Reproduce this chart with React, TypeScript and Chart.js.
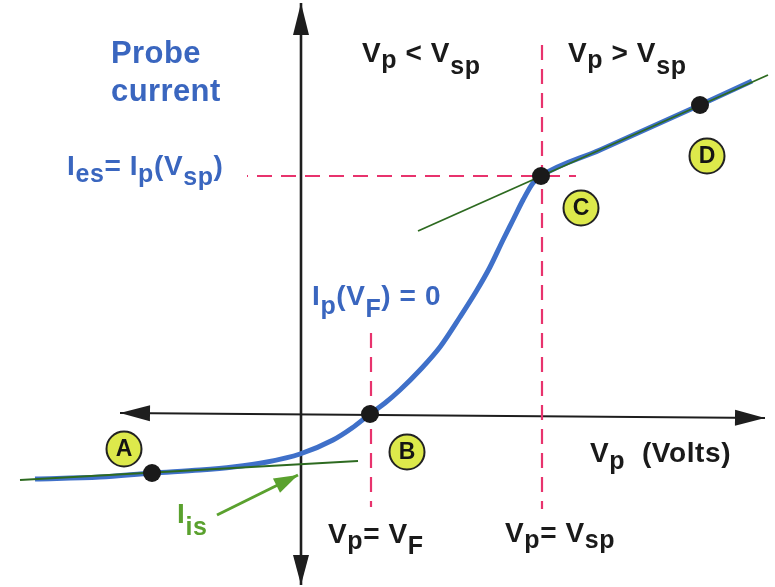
import React, { useEffect, useRef } from "react";
import { Chart, registerables } from "chart.js";

Chart.register(...registerables);

// ---- scale ranges (probe voltage, probe current; arbitrary units) ----
const X_MIN = -6.02;
const X_MAX = 9.48;
const Y_MIN = -3.44;
const Y_MAX = 8.3;

// ---- probe I-V characteristic ----
const curveV = [-5.32, -4.02, -2.98, -2.02, -1.36, -0.68, -0.02, 0.64, 1.02, 1.38, 1.68, 1.98, 2.38, 2.78, 3.18, 3.52, 3.78, 4.04, 4.24, 4.44, 4.64, 4.8, 5.98, 7.98, 9.02];
const curveI = [-1.28, -1.24, -1.16, -1.1, -1.04, -0.94, -0.78, -0.5, -0.26, 0.02, 0.24, 0.5, 0.9, 1.36, 1.96, 2.5, 2.96, 3.5, 3.9, 4.3, 4.64, 4.78, 5.3, 6.2, 6.68];

// ---- tangent (fit) lines ----
const ionFitV = [-5.62, 1.14];
const ionFitI = [-1.3, -0.92];
const elecFitV = [2.34, 9.34];
const elecFitI = [3.68, 6.8];

// ---- axes ----
const vAxisV = [0, 0];
const vAxisI = [-3.4, 8.24];
const hAxisV = [-3.62, 9.28];
const hAxisI = [0.04, -0.06];

// ---- dashed guide lines ----
const floatLineV = [1.4, 1.4];
const floatLineI = [1.64, -1.84];
const plasmaLineV = [4.82, 4.82];
const plasmaLineI = [7.4, -1.88];
const iesLineV = [5.5, -1.08];
const iesLineI = [4.78, 4.78];

// ---- marked points A-D ----
const markV = [-2.98, 1.38, 4.8, 7.98];
const markI = [-1.16, 0.02, 4.78, 6.2];
const badgeLabels = ["A", "B", "C", "D"];
const badgeV = [-3.54, 2.12, 5.6, 8.12];
const badgeI = [-0.68, -0.74, 4.14, 5.18];

// ---- I_is pointer arrow ----
const isArrowV = [-1.68, -0.06];
const isArrowI = [-2.0, -1.2];

// ---- text annotations: [text, subscriptShift] segments, anchored at (V, I) ----
type Seg = [string, number];
const labelTexts: Seg[][] = [
  [["V", 0], ["p", 6], [" < V", 0], ["sp", 12]],
  [["V", 0], ["p", 6], [" > V", 0], ["sp", 12]],
  [["I", 0], ["es", 7], ["= I", 0], ["p", 7], ["(V", 0], ["sp", 10], [")", 0]],
  [["I", 0], ["p", 9], ["(V", 0], ["F", 12], [") = 0", 0]],
  [["V", 0], ["p", 7], ["  (Volts)", 0]],
  [["V", 0], ["p", 6], ["= V", 0], ["F", 11]],
  [["V", 0], ["p", 6], ["= V", 0], ["sp", 6]],
  [["I", 0], ["is", 12]],
];
const labelV = [1.22, 5.34, -4.68, 0.22, 5.78, 0.54, 4.08, -2.48];
const labelI = [7.06, 7.06, 4.8, 2.2, -0.94, -2.56, -2.54, -2.16];
const labelKind = ["black", "black", "blue", "blue", "black", "black", "black", "green"];
const titleLines = ["Probe", "current"];
const titleV = [-3.8, -3.8];
const titleI = [7.04, 6.28];

const COLORS: Record<string, string> = {
  black: "#1a1a1a",
  blue: "#3a66bf",
  green: "#5aa12e",
};
const FONT = '"Liberation Sans", Arial, Helvetica, sans-serif';

const pts = (xs: number[], ys: number[]) => xs.map((x, i) => ({ x, y: ys[i] }));

function arrowHead(ctx: CanvasRenderingContext2D, tx: number, ty: number, fx: number, fy: number, len: number, hw: number, color: string) {
  const a = Math.atan2(ty - fy, tx - fx);
  const bx = tx - len * Math.cos(a);
  const by = ty - len * Math.sin(a);
  const nx = -Math.sin(a);
  const ny = Math.cos(a);
  ctx.beginPath();
  ctx.moveTo(tx, ty);
  ctx.lineTo(bx + nx * hw, by + ny * hw);
  ctx.lineTo(bx - nx * hw, by - ny * hw);
  ctx.closePath();
  ctx.fillStyle = color;
  ctx.fill();
}

const diagramPlugin = {
  id: "diagram",
  afterDatasetsDraw(chart: any) {
    const ctx: any = chart.ctx;
    const sx = chart.scales.x;
    const sy = chart.scales.y;
    const px = (v: number) => sx.getPixelForValue(v);
    const py = (v: number) => sy.getPixelForValue(v);
    ctx.save();

    // axis arrowheads
    const ax = "#1e1e1e";
    arrowHead(ctx, px(vAxisV[1]), py(vAxisI[1]), px(vAxisV[0]), py(vAxisI[0]), 32, 8, ax);
    arrowHead(ctx, px(vAxisV[0]), py(vAxisI[0]), px(vAxisV[1]), py(vAxisI[1]), 30, 8, ax);
    arrowHead(ctx, px(hAxisV[0]), py(hAxisI[0]), px(hAxisV[1]), py(hAxisI[1]), 30, 8, ax);
    arrowHead(ctx, px(hAxisV[1]), py(hAxisI[1]), px(hAxisV[0]), py(hAxisI[0]), 30, 8, ax);

    // I_is arrow head
    arrowHead(ctx, px(isArrowV[1]), py(isArrowI[1]), px(isArrowV[0]), py(isArrowI[0]), 24, 8, COLORS.green);

    // badge letters
    ctx.textAlign = "center";
    ctx.textBaseline = "middle";
    ctx.fillStyle = "#141414";
    ctx.font = `bold 23px ${FONT}`;
    badgeLabels.forEach((t, i) => {
      ctx.fillText(t, px(badgeV[i]), py(badgeI[i]) + 1);
    });

    // title
    ctx.textAlign = "left";
    ctx.textBaseline = "alphabetic";
    ctx.fillStyle = COLORS.blue;
    ctx.font = `bold 31px ${FONT}`;
    ctx.letterSpacing = "0.4px";
    titleLines.forEach((t, i) => ctx.fillText(t, px(titleV[i]), py(titleI[i])));

    // rich labels
    ctx.letterSpacing = "0.6px";
    labelTexts.forEach((segs, i) => {
      let cx = px(labelV[i]);
      const by = py(labelI[i]);
      ctx.fillStyle = COLORS[labelKind[i]];
      segs.forEach(([t, sub]) => {
        ctx.font = sub ? `bold 25px ${FONT}` : `bold 28px ${FONT}`;
        ctx.fillText(t, cx, by + sub);
        cx += ctx.measureText(t).width;
      });
    });

    ctx.restore();
  },
};

export default function App() {
  const ref = useRef<HTMLCanvasElement | null>(null);

  useEffect(() => {
    if (!ref.current) return;
    const pink = "#e8336d";
    const chart = new Chart(ref.current, {
      type: "scatter",
      data: {
        datasets: [
          {
            label: "axis-v",
            data: pts(vAxisV, vAxisI),
            showLine: true,
            borderColor: "#1e1e1e",
            borderWidth: 2.6,
            pointRadius: 0,
            order: 10,
          },
          {
            label: "axis-h",
            data: pts(hAxisV, hAxisI),
            showLine: true,
            borderColor: "#1e1e1e",
            borderWidth: 2.2,
            pointRadius: 0,
            order: 10,
          },
          {
            label: "V_F",
            data: pts(floatLineV, floatLineI),
            showLine: true,
            borderColor: pink,
            borderWidth: 2.2,
            borderDash: [15, 9],
            pointRadius: 0,
            order: 9,
          },
          {
            label: "V_sp",
            data: pts(plasmaLineV, plasmaLineI),
            showLine: true,
            borderColor: pink,
            borderWidth: 2.2,
            borderDash: [15, 9],
            pointRadius: 0,
            order: 9,
          },
          {
            label: "I_es",
            data: pts(iesLineV, iesLineI),
            showLine: true,
            borderColor: pink,
            borderWidth: 2.2,
            borderDash: [15, 9],
            borderDashOffset: 8,
            pointRadius: 0,
            order: 9,
          },
          {
            label: "I_is arrow",
            data: pts(isArrowV, isArrowI),
            showLine: true,
            borderColor: COLORS.green,
            borderWidth: 3,
            pointRadius: 0,
            order: 9,
          },
          {
            label: "probe current",
            data: pts(curveV, curveI),
            showLine: true,
            borderColor: "#3f70c9",
            borderWidth: 5,
            cubicInterpolationMode: "monotone",
            pointRadius: 0,
            order: 8,
          },
          {
            label: "ion fit",
            data: pts(ionFitV, ionFitI),
            showLine: true,
            borderColor: "#2d6a20",
            borderWidth: 1.8,
            pointRadius: 0,
            order: 7,
          },
          {
            label: "electron fit",
            data: pts(elecFitV, elecFitI),
            showLine: true,
            borderColor: "#2d6a20",
            borderWidth: 1.8,
            pointRadius: 0,
            order: 7,
          },
          {
            label: "points",
            data: pts(markV, markI),
            showLine: false,
            pointRadius: 9,
            pointBackgroundColor: "#1a1a1a",
            pointBorderWidth: 0,
            order: 6,
          },
          {
            label: "badges",
            data: pts(badgeV, badgeI),
            showLine: false,
            pointRadius: 17.5,
            pointBackgroundColor: "#dde94b",
            pointBorderColor: "#222222",
            pointBorderWidth: 2,
            order: 5,
          },
        ] as any,
      },
      options: {
        animation: false,
        responsive: false,
        maintainAspectRatio: false,
        events: [],
        layout: { padding: 0, autoPadding: false },
        plugins: {
          legend: { display: false },
          tooltip: { enabled: false },
        },
        scales: {
          x: { type: "linear", min: X_MIN, max: X_MAX, display: false },
          y: { type: "linear", min: Y_MIN, max: Y_MAX, display: false },
        },
      },
      plugins: [diagramPlugin],
    });
    return () => chart.destroy();
  }, []);

  return (
    <div style={{ position: "fixed", left: 0, top: 0, width: 775, height: 587, background: "#ffffff" }}>
      <canvas ref={ref} width={775} height={587} />
    </div>
  );
}
